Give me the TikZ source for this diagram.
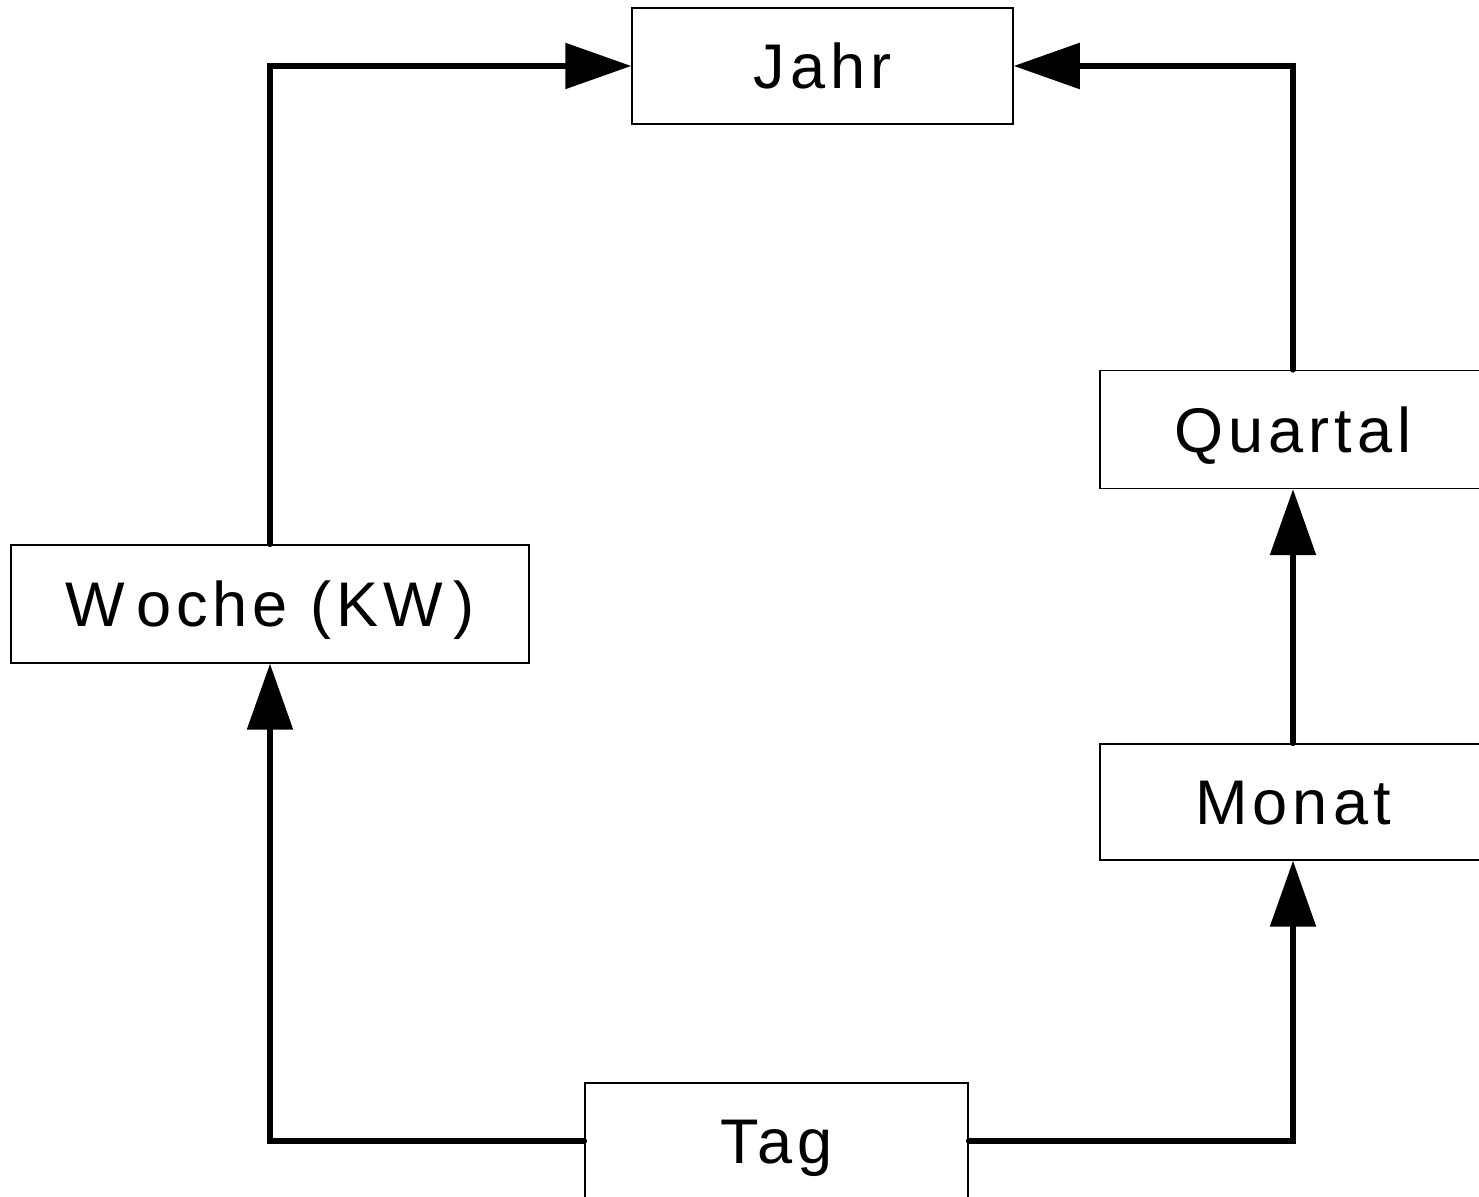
\documentclass[tikz,border=0pt]{standalone}
\usepackage{fontspec}
\setmainfont[LetterSpace=8]{Liberation Sans}
\usetikzlibrary{positioning}
\usetikzlibrary{arrows.meta}

\begin{document}
\begin{tikzpicture}[
 period/.style={rectangle, draw=black, line width=0.85pt, minimum height=2.32cm, inner sep=0pt,
  text height=25.7pt, text depth=0pt, font=\fontsize{35.9}{43}\selectfont},
 arrow/.style={-{Triangle[length=1.32cm, width=0.9cm]}, line width=3.2pt, line cap=round}
]
\useasboundingbox (0,0) rectangle (29.58,23.94);

% Periods
\node[period, minimum width=7.62cm] (Jahr) at (16.45,22.62) {Jahr};
\node[period, minimum width=10.36cm, minimum height=2.36cm] (Woche) at (5.40,11.86) {W\kern0.22cm oche (KW\kern0.2cm)};
\node[period, minimum width=7.72cm] (Monat) at (25.86,7.90) {Monat};
\node[period, minimum width=7.72cm, minimum height=2.36cm, above=5.08cm of Monat] (Quartal) {Quartal};
\node[period, minimum width=7.66cm] (Tag) at (15.53,1.12) {Tag};

% Aggregation
\draw[arrow] (Tag.west) -| (Woche.south);
\draw[arrow] (Tag.east) -| (Monat.south);
\draw[arrow] (Monat.north) -- (Quartal.south);
\draw[arrow] (Woche.north) |- (Jahr.west);
\draw[arrow] (Quartal.north) |- (Jahr.east);
\end{tikzpicture}
\end{document}
